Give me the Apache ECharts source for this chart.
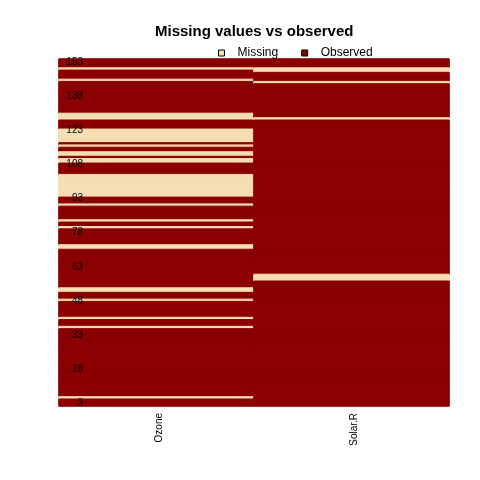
<!DOCTYPE html>
<html>
<head>
<meta charset="utf-8">
<script src="https://cdn.jsdelivr.net/npm/echarts@6/dist/echarts.min.js"></script>
<style>
  html, body { margin: 0; padding: 0; background: #fff; }
  #chart { width: 480px; height: 480px; }
</style>
</head>
<body>
<div id="chart"></div>
<script>
// airquality: 153 rows, missingness of Ozone and Solar.R
var columns = ['Ozone', 'Solar.R'];
var rowCount = 153;
var ozoneMissing = [5, 10, 25, 26, 27, 32, 33, 34, 35, 36, 37, 39, 42, 43, 45, 46,
    52, 53, 54, 55, 56, 57, 58, 59, 60, 61, 65, 72, 75, 83, 84, 102, 103, 107, 115, 119, 150];
var solarMissing = [5, 6, 11, 27, 96, 97, 98];
var missingByColumn = [ozoneMissing, solarMissing];

var missColor = '#F5DEB3';
var obsColor = '#8B0000';

var rows = [];
for (var r = 1; r <= rowCount; r++) rows.push(r);

var cells = [];
missingByColumn.forEach(function (miss, c) {
    rows.forEach(function (row, i) {
        var isMiss = miss.indexOf(row) >= 0;
        var col = isMiss ? missColor : obsColor;
        cells.push({
            value: [c, i, isMiss ? 1 : 0],
            itemStyle: { color: col, borderColor: col, borderWidth: 1 }
        });
    });
});

var myChart = echarts.init(document.getElementById('chart'));
var option = {
    animation: false,
    title: {
        text: 'Missing values vs observed',
        left: 155,
        top: 24,
        padding: 0,
        textStyle: { fontFamily: 'Liberation Sans', fontSize: 15, fontWeight: 'bold', color: '#000' }
    },
    legend: {
        left: 218,
        top: 47,
        padding: 0,
        itemWidth: 6,
        itemHeight: 6,
        itemGap: 23,
        icon: 'rect',
        itemStyle: { borderColor: '#000', borderWidth: 1 },
        textStyle: { fontFamily: 'Liberation Sans', fontSize: 12, color: '#000', padding: [0, 0, 0, 8] },
        data: ['Missing', 'Observed']
    },
    grid: { left: 59, right: 31, top: 59, bottom: 74 },
    xAxis: {
        type: 'category',
        data: columns,
        axisLine: { show: false },
        axisTick: { show: false },
        splitLine: { show: false },
        axisLabel: {
            rotate: 90,
            margin: 7,
            verticalAlign: 'top',
            lineHeight: 5,
            fontFamily: 'Liberation Sans',
            fontSize: 10,
            color: '#000'
        }
    },
    yAxis: {
        type: 'category',
        data: rows,
        inverse: true,
        z: 10,
        axisLine: { show: false },
        axisTick: { show: false },
        splitLine: { show: false },
        axisLabel: {
            interval: 14,
            margin: -24,
            verticalAlign: 'top',
            lineHeight: 5,
            fontFamily: 'Liberation Sans',
            fontSize: 10,
            color: '#000',
            formatter: function (v) { return String(rowCount + 1 - v); }
        }
    },
    series: [
        {
            type: 'heatmap',
            data: cells,
            emphasis: { disabled: true }
        },
        { name: 'Missing', type: 'bar', data: [], itemStyle: { color: missColor } },
        { name: 'Observed', type: 'bar', data: [], itemStyle: { color: obsColor } }
    ]
};
myChart.setOption(option);
</script>
</body>
</html>
